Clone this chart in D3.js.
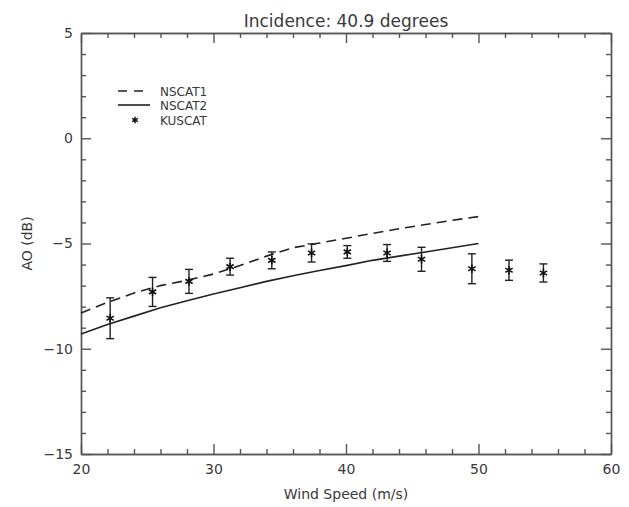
<!DOCTYPE html>
<html>
<head>
<meta charset="utf-8">
<script src="https://cdn.jsdelivr.net/npm/d3@7"></script>
<style>
  body { margin: 0; background: #fff; }
  text { font-family: "DejaVu Sans", sans-serif; fill: #3a3a3a; }
  .axis path, .axis line { stroke: #555; stroke-width: 1.4; }
</style>
</head>
<body>
<div id="chart"></div>
<script>
// chart values
var titleText = "Incidence: 40.9 degrees";
var xTitle = "Wind Speed (m/s)";
var yTitle = "AO (dB)";
var xTicks = [20, 30, 40, 50, 60];
var yTicks = [-15, -10, -5, 0, 5];

// model curves (NSCAT1 dashed, NSCAT2 solid)
var modelSpeed = [20, 22, 24, 26, 28, 30, 32, 34, 36, 38, 40, 42, 44, 46, 48, 50];
var nscat1 = [-8.3, -7.8, -7.35, -7.0, -6.75, -6.45, -6.05, -5.6, -5.2, -4.98, -4.75, -4.52, -4.3, -4.1, -3.9, -3.72];
var nscat2 = [-9.3, -8.85, -8.45, -8.05, -7.72, -7.4, -7.1, -6.8, -6.53, -6.28, -6.05, -5.8, -5.6, -5.4, -5.2, -5.0];

// KUSCAT measurements with error bars
var kuSpeed = [22.2, 25.4, 28.15, 31.25, 34.4, 37.4, 40.1, 43.1, 45.7, 49.5, 52.3, 54.9];
var kuA0 = [-8.55, -7.3, -6.8, -6.1, -5.8, -5.45, -5.4, -5.45, -5.75, -6.2, -6.27, -6.4];
var kuErr = [0.97, 0.69, 0.57, 0.4, 0.4, 0.43, 0.3, 0.4, 0.57, 0.71, 0.48, 0.43];

var legendNames = ["NSCAT1", "NSCAT2", "KUSCAT"];

var w = 629, h = 507;
var margin = {left: 81, right: 18, top: 33, bottom: 53};

var svg = d3.select("#chart").append("svg")
    .attr("width", w)
    .attr("height", h);

var x = d3.scaleLinear().domain([20, 60]).range([margin.left, w - margin.right]);
var y = d3.scaleLinear().domain([-15, 5]).range([h - margin.bottom, margin.top]);

var minorX = d3.range(20, 61, 2).filter(function (d) { return d % 10 !== 0; });
var minorY = d3.range(-15, 6, 1).filter(function (d) { return d % 5 !== 0; });

var bigTick = 10, smallTick = 5;

// bottom axis with labels
svg.append("g").attr("class", "axis")
    .attr("transform", "translate(0," + y(-15) + ")")
    .call(d3.axisBottom(x).tickValues(xTicks).tickSize(-bigTick).tickPadding(10).tickSizeOuter(0))
    .call(function (g) { g.selectAll("text").style("font-size", "14px").attr("fill", "#3a3a3a"); });
svg.append("g").attr("class", "axis")
    .attr("transform", "translate(0," + y(-15) + ")")
    .call(d3.axisBottom(x).tickValues(minorX).tickSize(-smallTick).tickFormat("").tickSizeOuter(0));

// top axis, ticks only
svg.append("g").attr("class", "axis")
    .attr("transform", "translate(0," + y(5) + ")")
    .call(d3.axisTop(x).tickValues(xTicks).tickSize(-bigTick).tickFormat("").tickSizeOuter(0));
svg.append("g").attr("class", "axis")
    .attr("transform", "translate(0," + y(5) + ")")
    .call(d3.axisTop(x).tickValues(minorX).tickSize(-smallTick).tickFormat("").tickSizeOuter(0));

// left axis with labels
svg.append("g").attr("class", "axis")
    .attr("transform", "translate(" + x(20) + ",0)")
    .call(d3.axisLeft(y).tickValues(yTicks).tickSize(-bigTick).tickPadding(8).tickSizeOuter(0)
        .tickFormat(function (d) { return d < 0 ? "\u2212" + Math.abs(d) : d; }))
    .call(function (g) { g.selectAll("text").style("font-size", "14px").attr("fill", "#3a3a3a"); });
svg.append("g").attr("class", "axis")
    .attr("transform", "translate(" + x(20) + ",0)")
    .call(d3.axisLeft(y).tickValues(minorY).tickSize(-smallTick).tickFormat("").tickSizeOuter(0));

// right axis, ticks only
svg.append("g").attr("class", "axis")
    .attr("transform", "translate(" + x(60) + ",0)")
    .call(d3.axisRight(y).tickValues(yTicks).tickSize(-bigTick).tickFormat("").tickSizeOuter(0));
svg.append("g").attr("class", "axis")
    .attr("transform", "translate(" + x(60) + ",0)")
    .call(d3.axisRight(y).tickValues(minorY).tickSize(-smallTick).tickFormat("").tickSizeOuter(0));

// titles
svg.append("text")
    .attr("x", (x(20) + x(60)) / 2)
    .attr("y", 27)
    .attr("text-anchor", "middle")
    .style("font-size", "17px")
    .text(titleText);

svg.append("text")
    .attr("x", (x(20) + x(60)) / 2)
    .attr("y", 499)
    .attr("text-anchor", "middle")
    .style("font-size", "14px")
    .text(xTitle);

svg.append("text")
    .attr("transform", "translate(32," + y(-5) + ") rotate(-90)")
    .attr("text-anchor", "middle")
    .style("font-size", "14px")
    .text(yTitle);

// model lines
var line = d3.line()
    .x(function (d) { return x(d[0]); })
    .y(function (d) { return y(d[1]); });

svg.append("path")
    .datum(d3.zip(modelSpeed, nscat1))
    .attr("d", line)
    .attr("fill", "none")
    .attr("stroke", "#222")
    .attr("stroke-width", 1.6)
    .attr("stroke-dasharray", "10,6");

svg.append("path")
    .datum(d3.zip(modelSpeed, nscat2))
    .attr("d", line)
    .attr("fill", "none")
    .attr("stroke", "#222")
    .attr("stroke-width", 1.6);

// KUSCAT points with error bars
var star = d3.symbol().type(d3.symbolAsterisk).size(50);
var capW = 4;

var pts = svg.selectAll(".ku")
    .data(d3.range(kuSpeed.length))
    .enter()
    .append("g").attr("class", "ku");

pts.append("line")
    .attr("x1", function (i) { return x(kuSpeed[i]); })
    .attr("x2", function (i) { return x(kuSpeed[i]); })
    .attr("y1", function (i) { return y(kuA0[i] + kuErr[i]); })
    .attr("y2", function (i) { return y(kuA0[i] - kuErr[i]); })
    .attr("stroke", "#222").attr("stroke-width", 1.4);
pts.append("line")
    .attr("x1", function (i) { return x(kuSpeed[i]) - capW; })
    .attr("x2", function (i) { return x(kuSpeed[i]) + capW; })
    .attr("y1", function (i) { return y(kuA0[i] + kuErr[i]); })
    .attr("y2", function (i) { return y(kuA0[i] + kuErr[i]); })
    .attr("stroke", "#222").attr("stroke-width", 1.4);
pts.append("line")
    .attr("x1", function (i) { return x(kuSpeed[i]) - capW; })
    .attr("x2", function (i) { return x(kuSpeed[i]) + capW; })
    .attr("y1", function (i) { return y(kuA0[i] - kuErr[i]); })
    .attr("y2", function (i) { return y(kuA0[i] - kuErr[i]); })
    .attr("stroke", "#222").attr("stroke-width", 1.4);
pts.append("path")
    .attr("d", star)
    .attr("transform", function (i) { return "translate(" + x(kuSpeed[i]) + "," + y(kuA0[i]) + ")"; })
    .attr("fill", "none")
    .attr("stroke", "#111")
    .attr("stroke-width", 1.6);

// legend
var legend = svg.append("g");
var legY = [91, 105, 120];

legend.append("line")
    .attr("x1", 118).attr("x2", 150)
    .attr("y1", legY[0]).attr("y2", legY[0])
    .attr("stroke", "#222").attr("stroke-width", 1.6)
    .attr("stroke-dasharray", "9,7");
legend.append("line")
    .attr("x1", 118).attr("x2", 150)
    .attr("y1", legY[1]).attr("y2", legY[1])
    .attr("stroke", "#222").attr("stroke-width", 1.6);
legend.append("path")
    .attr("d", d3.symbol().type(d3.symbolAsterisk).size(30))
    .attr("transform", "translate(135," + legY[2] + ")")
    .attr("fill", "none")
    .attr("stroke", "#111")
    .attr("stroke-width", 1.5);

legend.selectAll(".lt")
    .data(legendNames)
    .enter()
    .append("text")
    .attr("class", "lt")
    .attr("x", 160)
    .attr("y", function (d, i) { return legY[i] + 5; })
    .style("font-size", "12px")
    .text(function (d) { return d; });
</script>
</body>
</html>
